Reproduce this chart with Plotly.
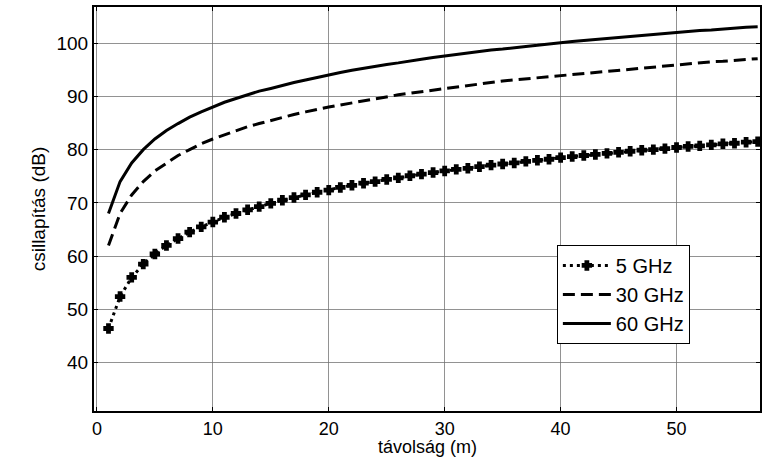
import plotly.graph_objects as go

# distance in metres
distance = list(range(1, 58))

# attenuation in dB for each frequency
loss_5ghz = [46.4, 52.4, 56.0, 58.5, 60.4, 62.0, 63.3, 64.5, 65.5, 66.4, 67.3, 68.0, 68.7, 69.3,
             69.9, 70.5, 71.0, 71.5, 72.0, 72.4, 72.9, 73.3, 73.7, 74.0, 74.4, 74.7, 75.1, 75.4,
             75.7, 76.0, 76.3, 76.5, 76.8, 77.1, 77.3, 77.5, 77.8, 78.0, 78.2, 78.5, 78.7, 78.9,
             79.1, 79.3, 79.5, 79.7, 79.9, 80.0, 80.2, 80.4, 80.6, 80.7, 80.9, 81.1, 81.2, 81.4, 81.5]
loss_30ghz = [62.0, 68.0, 71.5, 74.0, 76.0, 77.5, 78.9, 80.0, 81.1, 82.0, 82.8, 83.6, 84.3, 84.9,
              85.5, 86.1, 86.6, 87.1, 87.6, 88.0, 88.4, 88.8, 89.2, 89.6, 89.9, 90.3, 90.6, 90.9,
              91.2, 91.5, 91.8, 92.1, 92.4, 92.6, 92.9, 93.1, 93.3, 93.6, 93.8, 94.0, 94.2, 94.4,
              94.6, 94.8, 95.0, 95.2, 95.4, 95.6, 95.8, 95.9, 96.1, 96.3, 96.5, 96.6, 96.8, 96.9, 97.1]
loss_60ghz = [68.0, 74.0, 77.5, 80.0, 82.0, 83.6, 84.9, 86.1, 87.1, 88.0, 88.9, 89.6, 90.3, 91.0,
              91.5, 92.1, 92.6, 93.1, 93.6, 94.0, 94.5, 94.9, 95.3, 95.6, 96.0, 96.3, 96.7, 97.0,
              97.3, 97.6, 97.9, 98.1, 98.4, 98.7, 98.9, 99.2, 99.4, 99.6, 99.9, 100.1, 100.3, 100.5,
              100.7, 100.9, 101.1, 101.3, 101.5, 101.7, 101.8, 102.0, 102.2, 102.4, 102.5, 102.7,
              102.8, 103.0, 103.1]

series_names = ["5 GHz", "30 GHz", "60 GHz"]
x_ticks = [0, 10, 20, 30, 40, 50]
y_ticks = [40, 50, 60, 70, 80, 90, 100]

FONT = "Liberation Sans, Arial, sans-serif"

fig = go.Figure()
fig.add_trace(go.Scatter(
    x=distance, y=loss_5ghz, name=series_names[0], mode="lines+markers",
    line=dict(color="black", width=3, dash="3px,4px"),
    marker=dict(symbol="cross", size=7, color="black", line=dict(color="black", width=2)),
))
fig.add_trace(go.Scatter(
    x=distance, y=loss_30ghz, name=series_names[1], mode="lines",
    line=dict(color="black", width=3, dash="12px,6px"),
))
fig.add_trace(go.Scatter(
    x=distance, y=loss_60ghz, name=series_names[2], mode="lines",
    line=dict(color="black", width=3),
))

axis_common = dict(
    showline=True, linecolor="black", linewidth=2, mirror="ticks",
    ticks="inside", ticklen=4, tickcolor="black",
    showgrid=True, gridcolor="rgba(110,110,110,0.75)", gridwidth=1,
    zeroline=False,
)

fig.update_xaxes(range=[-0.25, 57.2], tickvals=x_ticks,
                 tickfont=dict(family=FONT, size=18, color="black"), **axis_common)
fig.update_yaxes(range=[30.9, 106.8], tickvals=y_ticks,
                 tickfont=dict(family=FONT, size=19, color="black"),
                 title=dict(text="csillapítás (dB)", font=dict(family=FONT, size=19, color="black"),
                            standoff=6),
                 **axis_common)

# x-axis title placed flush with the bottom edge of the page
fig.add_annotation(text="távolság (m)", xref="paper", yref="paper", x=0.5, y=-48 / 404,
                   xanchor="center", yanchor="bottom", showarrow=False,
                   font=dict(family=FONT, size=18, color="black"))

fig.update_layout(
    width=765, height=459,
    margin=dict(l=94, r=3, t=7, b=48),
    paper_bgcolor="white", plot_bgcolor="white",
    font=dict(family=FONT, color="black"),
    legend=dict(x=0.695, y=0.411, xanchor="left", yanchor="top",
                bgcolor="white", bordercolor="black", borderwidth=1,
                font=dict(family=FONT, size=20, color="black"),
                tracegroupgap=0, itemwidth=48),
)

fig.write_html("out.html")
